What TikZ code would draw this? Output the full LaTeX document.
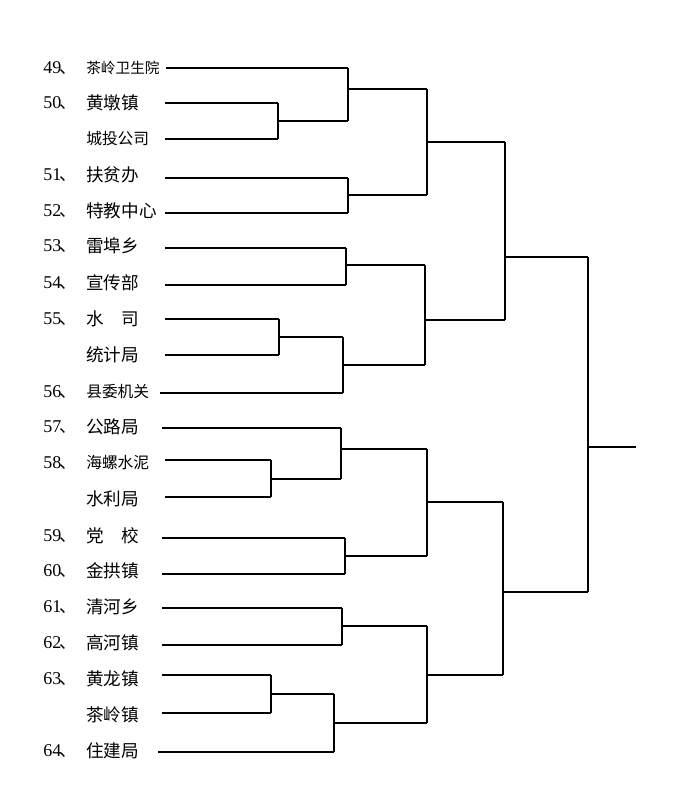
\documentclass[tikz,border=0pt]{standalone}
\usepackage{fontspec}
\setmainfont{Liberation Serif}
\newfontfamily\cjk{Noto Sans CJK SC}
\begin{document}
\begin{tikzpicture}[x=0.75pt,y=-0.75pt,
  lbl/.style={anchor=west,inner sep=0pt,font=\cjk\fontsize{13.2}{15}\selectfont},
  sml/.style={anchor=west,inner sep=0pt,font=\cjk\fontsize{11.8}{14}\selectfont},
  tiny/.style={anchor=west,inner sep=0pt,font=\cjk\fontsize{11}{13}\selectfont},
  num/.style={anchor=west,inner sep=0pt,font=\fontsize{13.5}{15}\selectfont},
  br/.style={draw,line width=0.9pt}]
\useasboundingbox (0,0) rectangle (692,801);
% labels
\foreach \n/\y in {49/68,50/103,51/175,52/211,53/246,54/283,55/319,56/392,57/427,58/463,59/536,60/571,61/607,62/643,63/679,64/751}
  {\node[num] (n\n) at (43,\y) {\n\kern-1pt{\cjk\fontsize{13}{15}\selectfont 、}};}
\foreach \id/\t/\y/\s in {a/茶岭卫生院/68/tiny,b/黄墩镇/103/lbl,c/城投公司/139/sml,d/扶贫办/175/lbl,e/特教中心/211/lbl,f/雷埠乡/246/lbl,g/宣传部/283/lbl,h/水\quad 司/319/lbl,i/统计局/355/lbl,j/县委机关/392/sml,k/公路局/427/lbl,l/海螺水泥/463/sml,m/水利局/499/lbl,o/党\quad 校/536/lbl,p/金拱镇/571/lbl,q/清河乡/607/lbl,r/高河镇/643/lbl,s/黄龙镇/679/lbl,t/茶岭镇/715/lbl,u/住建局/751/lbl}
  {\node[\s] (\id) at (86,\y) {\t};}
\draw[br] (166,68)--(348,68) (165,103)--(278,103) (165,139)--(278,139)
  (278,103)--(278,139) (278,121)--(348,121) (348,68)--(348,121)
  (348,89)--(427,89);
\draw[br] (165,178)--(348,178) (165,213)--(348,213) (348,178)--(348,213) (348,195)--(427,195)
  (427,89)--(427,195) (427,142)--(505,142);
\draw[br] (165,248)--(346,248) (165,285)--(346,285) (346,248)--(346,285) (346,265)--(425,265);
\draw[br] (165,319)--(279,319) (165,355)--(279,355) (279,319)--(279,355) (279,337)--(343,337)
  (160,393)--(343,393) (343,337)--(343,393) (343,365)--(425,365)
  (425,265)--(425,365) (425,320)--(505,320) (505,142)--(505,320) (505,257)--(588,257);
\draw[br] (162,428)--(341,428) (165,460)--(271,460) (165,497)--(271,497) (271,460)--(271,497)
  (271,479)--(341,479) (341,428)--(341,479) (341,449)--(427,449);
\draw[br] (162,538)--(345,538) (162,574)--(345,574) (345,538)--(345,574) (345,556)--(427,556)
  (427,449)--(427,556) (427,502)--(503,502);
\draw[br] (162,608)--(342,608) (162,645)--(342,645) (342,608)--(342,645) (342,626)--(427,626);
\draw[br] (162,675)--(271,675) (162,713)--(271,713) (271,675)--(271,713) (271,694)--(334,694)
  (158,752)--(334,752) (334,694)--(334,752) (334,723)--(427,723)
  (427,626)--(427,723) (427,675)--(503,675) (503,502)--(503,675) (503,592)--(588,592)
  (588,257)--(588,592) (588,447)--(636,447);
\end{tikzpicture}
\end{document}
